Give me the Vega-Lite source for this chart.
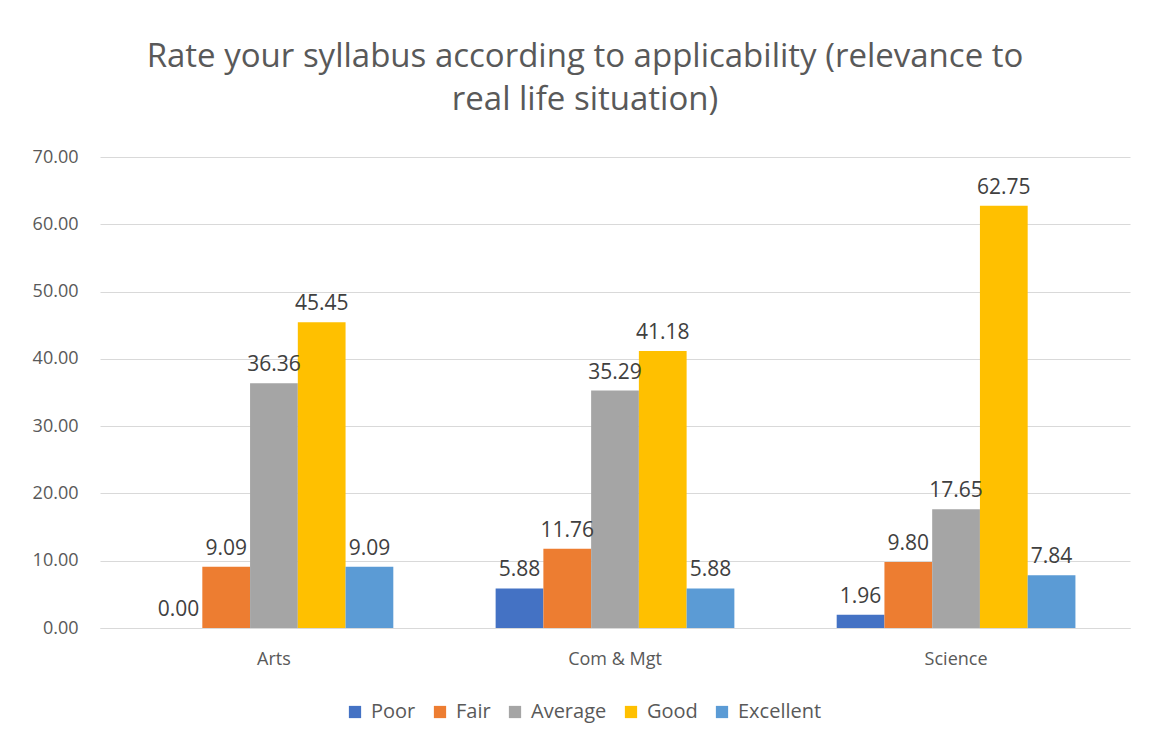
{
  "$schema": "https://vega.github.io/schema/vega-lite/v6.json",
  "width": 1030,
  "height": 471,
  "autosize": "none",
  "padding": {"left": 100, "top": 157, "right": 19, "bottom": 115},
  "background": "white",
  "title": {
    "text": ["Rate your syllabus according to  applicability (relevance to", "real life situation)"],
    "fontSize": 33,
    "font": "Open Sans",
    "fontWeight": "normal",
    "color": "#595959",
    "lineHeight": 43,
    "anchor": "middle",
    "dx": -30,
    "offset": 31
  },
  "data": {
    "values": [
      {"stream": "Arts", "rating": "Poor", "value": 0.00},
      {"stream": "Arts", "rating": "Fair", "value": 9.09},
      {"stream": "Arts", "rating": "Average", "value": 36.36},
      {"stream": "Arts", "rating": "Good", "value": 45.45},
      {"stream": "Arts", "rating": "Excellent", "value": 9.09},
      {"stream": "Com & Mgt", "rating": "Poor", "value": 5.88},
      {"stream": "Com & Mgt", "rating": "Fair", "value": 11.76},
      {"stream": "Com & Mgt", "rating": "Average", "value": 35.29},
      {"stream": "Com & Mgt", "rating": "Good", "value": 41.18},
      {"stream": "Com & Mgt", "rating": "Excellent", "value": 5.88},
      {"stream": "Science", "rating": "Poor", "value": 1.96},
      {"stream": "Science", "rating": "Fair", "value": 9.80},
      {"stream": "Science", "rating": "Average", "value": 17.65},
      {"stream": "Science", "rating": "Good", "value": 62.75},
      {"stream": "Science", "rating": "Excellent", "value": 7.84}
    ]
  },
  "encoding": {
    "x": {
      "field": "stream", "type": "nominal", "title": null,
      "scale": {"paddingInner": 0.3, "paddingOuter": 0.16},
      "axis": {"labelAngle": 0, "labelFontSize": 18, "labelColor": "#595959", "labelFont": "Open Sans", "ticks": false, "domainColor": "#d9d9d9", "labelPadding": 22}
    },
    "xOffset": {"field": "rating", "type": "nominal", "sort": ["Poor", "Fair", "Average", "Good", "Excellent"]},
    "y": {
      "field": "value", "type": "quantitative", "title": null,
      "scale": {"domain": [0, 70]},
      "axis": {"values": [0, 10, 20, 30, 40, 50, 60, 70], "format": ".2f", "labelFontSize": 18, "labelColor": "#595959", "labelFont": "Open Sans", "ticks": false, "domain": false, "gridColor": "#d9d9d9", "labelPadding": 22}
    }
  },
  "layer": [
    {
      "mark": {"type": "bar"},
      "encoding": {
        "color": {
          "field": "rating", "type": "nominal",
          "sort": ["Poor", "Fair", "Average", "Good", "Excellent"],
          "scale": {"domain": ["Poor", "Fair", "Average", "Good", "Excellent"], "range": ["#4472C4", "#ED7D31", "#A5A5A5", "#FFC000", "#5B9BD5"]},
          "legend": {"orient": "none", "legendX": 245, "legendY": 545, "direction": "horizontal", "title": null, "symbolType": "square", "symbolSize": 150, "labelFontSize": 20, "labelColor": "#595959", "labelFont": "Open Sans", "columnPadding": 14, "labelOffset": 6, "symbolStrokeWidth": 0}
        }
      }
    },
    {
      "mark": {"type": "text", "baseline": "bottom", "dy": -8, "fontSize": 21, "font": "Open Sans", "color": "#404040"},
      "encoding": {
        "text": {"field": "value", "type": "quantitative", "format": ".2f"}
      }
    }
  ],
  "config": {"view": {"stroke": null}}
}
